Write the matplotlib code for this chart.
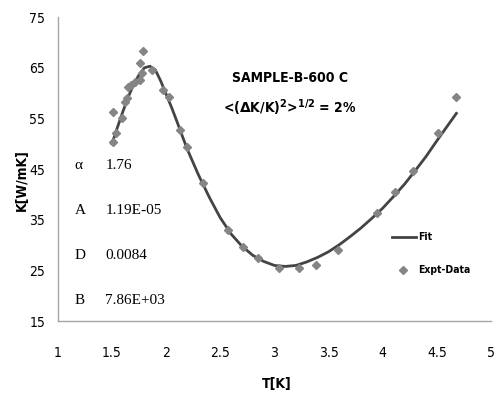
import matplotlib
matplotlib.use("Agg")
import matplotlib.pyplot as plt
from matplotlib import font_manager

T_DATA = [1.51, 1.51, 1.54, 1.59, 1.62, 1.64, 1.65, 1.68, 1.71, 1.76, 1.76,
          1.78, 1.79, 1.87, 1.97, 2.03, 2.13, 2.19, 2.34, 2.57, 2.71, 2.85,
          3.04, 3.23, 3.38, 3.59, 3.95, 4.11, 4.28, 4.51, 4.68]
K_DATA = [56.2, 50.3, 52.1, 55.0, 58.2, 59.0, 61.2, 61.5, 62.1, 62.5, 65.9,
          64.0, 68.4, 64.5, 60.6, 59.2, 52.7, 49.3, 42.2, 33.0, 29.6, 27.4,
          25.4, 25.4, 26.0, 29.0, 36.3, 40.4, 44.6, 52.1, 59.2]

# fitted curve
T_FIT = [1.50, 1.55, 1.60, 1.65, 1.70, 1.75, 1.80, 1.85, 1.90, 1.95, 2.00,
         2.05, 2.10, 2.15, 2.20, 2.30, 2.40, 2.50, 2.60, 2.70, 2.80, 2.90,
         3.00, 3.10, 3.20, 3.30, 3.40, 3.50, 3.60, 3.70, 3.80, 3.90, 4.00,
         4.10, 4.20, 4.30, 4.40, 4.50, 4.60, 4.68]
K_FIT = [50.0, 53.2, 56.3, 59.2, 61.7, 63.6, 65.0, 65.3, 64.6, 62.4, 59.8,
         57.2, 54.4, 51.5, 48.7, 43.8, 39.4, 35.4, 32.2, 29.8, 28.0, 26.8,
         26.0, 25.8, 26.0, 26.7, 27.6, 28.7, 30.1, 31.7, 33.4, 35.3, 37.3,
         39.6, 42.0, 44.7, 47.5, 50.6, 53.6, 56.0]

PARAM_NAMES = ["\u03b1", "A", "D", "B"]
PARAM_VALUES = ["1.76", "1.19E-05", "0.0084", "7.86E+03"]

X_TICKS = [1, 1.5, 2, 2.5, 3, 3.5, 4, 4.5, 5]
Y_TICKS = [15, 25, 35, 45, 55, 65, 75]

SERIF = ["Liberation Serif", "DejaVu Serif"]
LINE, DOT, AXIS = "#444444", "#858585", "#a6a6a6"


def narrow(size, bold=False):
    """A condensed sans face, close to the narrow font of the original."""
    return font_manager.FontProperties(family="DejaVu Sans", stretch="condensed",
                                       size=size,
                                       weight="bold" if bold else "normal")


fig = plt.figure(figsize=(4.94, 3.97), dpi=100)
ax = fig.add_axes([0.117, 0.191, 0.877, 0.766])

ax.plot(T_FIT, K_FIT, color=LINE, lw=2.0, zorder=2)
ax.plot(T_DATA, K_DATA, ls="none", marker="D", ms=4, color=DOT,
        markeredgecolor=DOT, zorder=3)

ax.set_xlim(1, 5)
ax.set_ylim(15, 75)
ax.set_xticks(X_TICKS)
ax.set_yticks(Y_TICKS)
ax.set_xticklabels([f"{t:g}" for t in X_TICKS], fontproperties=narrow(10))
ax.set_yticklabels([str(t) for t in Y_TICKS], fontproperties=narrow(10))
ax.tick_params(axis="x", length=0, pad=18)
ax.tick_params(axis="y", length=0, pad=9)
for side in ("top", "right"):
    ax.spines[side].set_visible(False)
for side in ("left", "bottom"):
    ax.spines[side].set_color(AXIS)
    ax.spines[side].set_linewidth(1.0)

fig.text(0.561, 0.015, "T[K]", fontproperties=narrow(10, True),
         ha="center", va="bottom")
fig.text(0.045, 0.547, "K[W/mK]", fontproperties=narrow(10, True),
         rotation=90, ha="center", va="center")

ax.text(3.14, 62.9, "SAMPLE-B-600 C", fontproperties=narrow(10, True),
        ha="center", va="center")
ax.text(3.14, 57.2, r"<($\mathbf{\Delta}$K/K)$^\mathbf{2}$>$^\mathbf{1/2}$ = 2%",
        fontproperties=narrow(10, True), ha="center", va="center")

for i, (name, value) in enumerate(zip(PARAM_NAMES, PARAM_VALUES)):
    y = 45.7 - i * 8.85
    ax.text(1.155, y, name, family=SERIF, fontsize=11, ha="left", va="center")
    ax.text(1.44, y, value, family=SERIF, fontsize=11, ha="left", va="center")

# legend drawn by hand at the reference position
ax.plot([4.09, 4.31], [31.6, 31.6], color=LINE, lw=2.0)
ax.text(4.33, 31.6, "Fit", fontproperties=narrow(7.5, True),
        ha="left", va="center")
ax.plot([4.19], [25.1], ls="none", marker="D", ms=4, color=DOT)
ax.text(4.33, 25.1, "Expt-Data", fontproperties=narrow(7.5, True),
        ha="left", va="center")

fig.savefig("out.png", dpi=100)
